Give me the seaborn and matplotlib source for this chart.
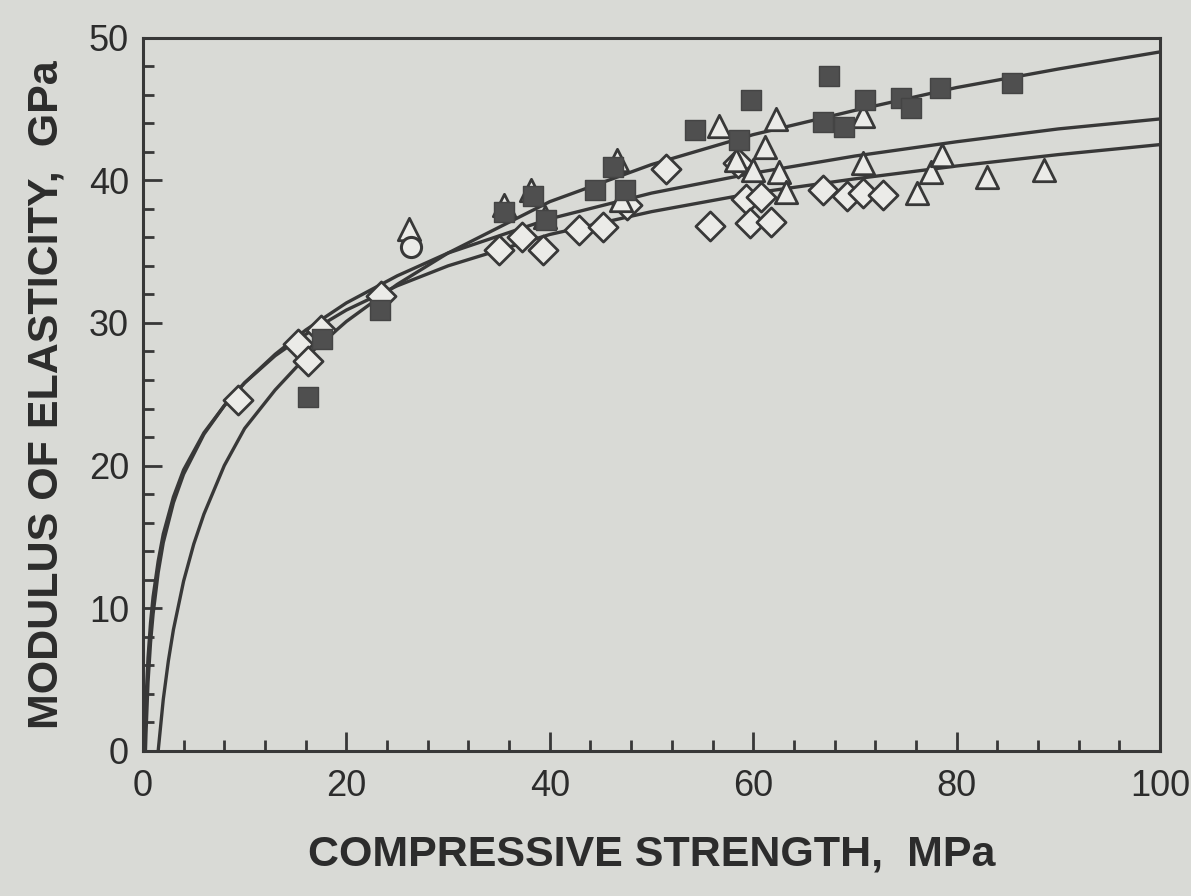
import matplotlib
matplotlib.use("Agg")
import matplotlib.pyplot as plt
from matplotlib.ticker import MultipleLocator
import seaborn as sns

sns.set_style("ticks")
plt.rcParams['font.family'] = ['Liberation Sans', 'DejaVu Sans']

# filled squares
sq_x = [16.2, 17.6, 23.3, 35.5, 38.4, 39.6, 44.4, 46.2, 47.4, 54.3, 58.6, 59.8,
        66.9, 67.5, 68.9, 71.0, 74.5, 75.5, 78.4, 85.4]
sq_y = [24.8, 28.9, 30.9, 37.8, 38.9, 37.2, 39.3, 40.9, 39.3, 43.5, 42.8, 45.6,
        44.1, 47.3, 43.7, 45.6, 45.8, 45.1, 46.5, 46.8]

# open triangles
tri_x = [26.2, 35.5, 38.2, 39.5, 46.6, 47.0, 56.6, 58.3, 60.0, 61.2, 62.2, 62.5,
         63.2, 70.8, 70.8, 76.1, 77.5, 78.6, 83.0, 88.6]
tri_y = [36.6, 38.3, 39.3, 37.4, 41.4, 38.6, 43.8, 41.4, 40.7, 42.3, 44.3, 40.6,
         39.2, 44.5, 41.2, 39.1, 40.6, 41.8, 40.2, 40.7]

# open diamonds
dia_x = [9.3, 15.2, 16.2, 17.5, 23.4, 35.0, 37.3, 39.3, 42.9, 45.2, 47.6, 51.4,
         55.8, 58.5, 59.3, 60.8, 59.7, 61.8, 66.9, 69.2, 70.8, 72.8]
dia_y = [24.6, 28.5, 27.3, 29.5, 31.9, 35.1, 36.0, 35.1, 36.5, 36.7, 38.3, 40.8,
         36.8, 41.2, 38.7, 38.8, 37.0, 37.1, 39.3, 38.9, 39.1, 39.0]

# open circle
circ_x = [26.4]
circ_y = [35.3]

# fitted curves
cb_x = [1.5, 2, 2.5, 3, 4, 5, 6, 8, 10, 13, 16, 20, 25, 30, 40, 50, 60, 70, 80, 90, 100]
cb_y = [0.0, 3.6, 6.3, 8.5, 11.9, 14.5, 16.6, 20.0, 22.6, 25.3, 27.6, 30.1, 32.7,
        34.9, 38.5, 41.1, 43.2, 44.9, 46.5, 47.8, 49.0]

ca_x = [0.25, 0.3, 0.5, 0.75, 1, 1.5, 2, 3, 4, 6, 8, 10, 13, 16, 20, 25, 30, 40, 50, 60, 70, 80, 90, 100]
ca_y = [0.0, 1.2, 4.8, 7.6, 9.6, 12.5, 14.6, 17.4, 19.4, 22.2, 24.2, 25.8, 27.8, 29.5,
        31.4, 33.3, 34.9, 37.3, 39.1, 40.5, 41.7, 42.7, 43.6, 44.3]

cc_x = [0.16, 0.3, 0.5, 0.75, 1, 1.5, 2, 3, 4, 6, 8, 10, 13, 16, 20, 25, 30, 40, 50, 60, 70, 80, 90, 100]
cc_y = [0.0, 3.5, 6.5, 9.0, 10.8, 13.3, 15.2, 17.8, 19.7, 22.3, 24.2, 25.8, 27.7, 29.2,
        30.9, 32.6, 34.0, 36.2, 37.8, 39.1, 40.1, 41.0, 41.8, 42.5]

bg = '#d9dad6'
ink = '#383838'
fill = '#ebebe8'
txt = '#2c2c2c'

fig = plt.figure(figsize=(11.91, 8.96), dpi=100, facecolor=bg)
ax = fig.add_axes([0.120, 0.162, 0.854, 0.796])
ax.set_facecolor(bg)

for cx, cy in [(cb_x, cb_y), (ca_x, ca_y), (cc_x, cc_y)]:
    sns.lineplot(x=cx, y=cy, sort=False, estimator=None, color=ink, lw=2.4, ax=ax, zorder=2)

sns.scatterplot(x=dia_x, y=dia_y, marker='D', s=220, color=fill, edgecolor=ink, linewidth=2.0, ax=ax, zorder=3)
sns.scatterplot(x=tri_x, y=tri_y, marker='^', s=260, color=fill, edgecolor=ink, linewidth=2.0, ax=ax, zorder=4)
sns.scatterplot(x=circ_x, y=circ_y, marker='o', s=210, color=fill, edgecolor=ink, linewidth=2.2, ax=ax, zorder=4)
sns.scatterplot(x=sq_x, y=sq_y, marker='s', s=200, color='#4f4f4f', edgecolor='#444444', linewidth=1.0, ax=ax, zorder=5)

ax.set_xlim(0, 100)
ax.set_ylim(0, 50)
ax.xaxis.set_major_locator(MultipleLocator(20))
ax.xaxis.set_minor_locator(MultipleLocator(4))
ax.yaxis.set_major_locator(MultipleLocator(10))
ax.yaxis.set_minor_locator(MultipleLocator(2))
ax.tick_params(which='both', direction='in', top=False, right=False, color=ink, width=2.0)
ax.tick_params(which='major', length=14, labelsize=26, labelcolor=txt)
ax.tick_params(which='minor', length=8)
ax.tick_params(axis='x', pad=13)
ax.tick_params(axis='y', pad=10)
for sp in ax.spines.values():
    sp.set_color(ink)
    sp.set_linewidth(2.2)

ax.set_xlabel("COMPRESSIVE STRENGTH,  MPa", fontsize=31, fontweight='bold', color=txt, labelpad=22)
ax.set_ylabel("MODULUS OF ELASTICITY,  GPa", fontsize=31, fontweight='bold', color=txt, labelpad=16)

fig.savefig("out.png", dpi=100, facecolor=bg)
